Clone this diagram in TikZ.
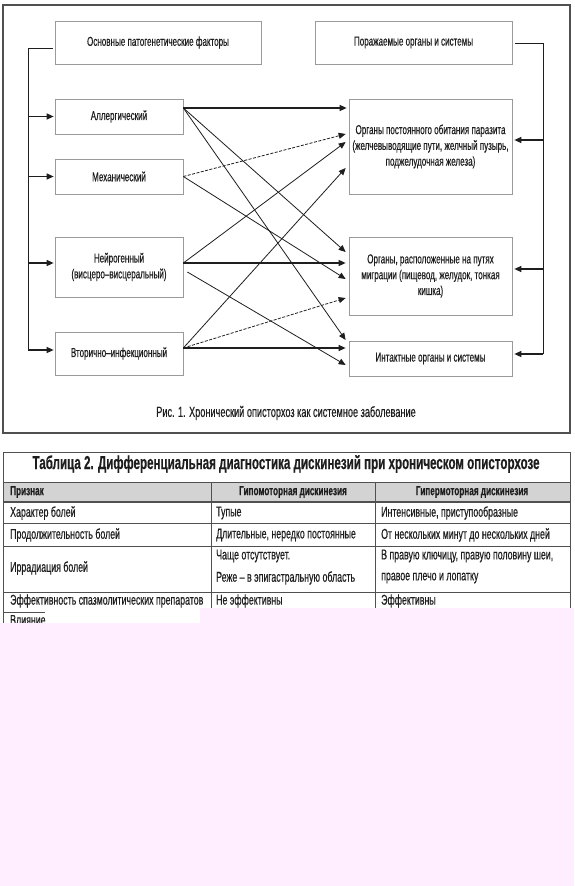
\documentclass[tikz,border=0pt]{standalone}
\usepackage{fontspec}
\setmainfont{Liberation Sans}[FakeStretch=0.62,FakeBold=0.35]
\usetikzlibrary{arrows.meta}
\definecolor{ink}{HTML}{1E1E1E}
\definecolor{boxline}{HTML}{9A9A9A}
\definecolor{frameline}{HTML}{505050}
\definecolor{headfill}{HTML}{D3D3D3}
\definecolor{pinkbg}{HTML}{FFEEFF}
\begin{document}
\begin{tikzpicture}[x=1pt,y=-1pt,
  box/.style={draw=boxline, line width=0.7pt, inner sep=1pt, align=center, font=\fontsize{13}{15.8}\selectfont, text=ink},
  conn/.style={draw=ink, line width=0.8pt, -{Triangle[length=7pt,width=6pt]}},
  hconn/.style={conn, line width=1.2pt},
  dconn/.style={conn, dash pattern=on 3pt off 1.5pt},
  bus/.style={draw=ink, line width=1pt},
  cell/.style={font=\fontsize{14.2}{16}\selectfont, text=ink, inner sep=0pt, anchor=west},
  headcell/.style={font=\bfseries\fontsize{13.2}{15}\selectfont, text=ink, inner sep=0pt},
  tline/.style={draw=frameline, line width=0.8pt},
]
\useasboundingbox (0,0) rectangle (574,886);
\fill[white] (0,0) rectangle (574,886);

% ---------- Figure 1 ----------
\draw[draw=frameline, line width=1.2pt] (3,5) rectangle (570,433);

\node[box, minimum width=206pt, minimum height=43pt] (f0) at (158,42.5) {Основные патогенетические факторы};
\node[box, minimum width=128pt, minimum height=35pt] (A) at (119,116.5) {Аллергический};
\node[box, minimum width=128pt, minimum height=35pt] (M) at (119,176.5) {Механический};
\node[box, minimum width=128pt, minimum height=60pt] (N) at (119,267) {Нейрогенный\\(висцеро–висцеральный)};
\node[box, minimum width=128pt, minimum height=43pt] (V) at (119,353.5) {Вторично–инфекционный};

\node[box, minimum width=197pt, minimum height=43pt] (R0) at (413.5,42.5) {Поражаемые органы и системы};
\node[box, minimum width=163pt, minimum height=95pt] (O1) at (430.5,146.5) {Органы постоянного обитания паразита\\(желчевыводящие пути, желчный пузырь,\\поджелудочная железа)};
\node[box, minimum width=163pt, minimum height=78pt] (O2) at (430.5,276) {Органы, расположенные на путях\\миграции (пищевод, желудок, тонкая\\кишка)};
\node[box, minimum width=163pt, minimum height=35pt] (O3) at (430.5,358.5) {Интактные органы и системы};

\node[font=\fontsize{14.8}{17}\selectfont, text=ink] (cap) at (286,413) {Рис. 1. Хронический описторхоз как системное заболевание};

% helper points
\path ([yshift=4pt]N.west) coordinate (nw)
      ([yshift=3.5pt]V.west) coordinate (vw)
      ([yshift=6.5pt]O1.east) coordinate (o1e)
      ([yshift=7pt]O2.east) coordinate (o2e)
      ([yshift=4.5pt]O3.east) coordinate (o3e);

% left bus
\coordinate (lb) at (28,48);
\draw[bus] ([xshift=-2pt,yshift=-5.5pt]f0.west) -- (lb) -- (lb |- vw);
\draw[hconn] (lb |- A.west) -- ([xshift=-1pt]A.west);
\draw[hconn] (lb |- M.west) -- ([xshift=-1pt]M.west);
\draw[hconn] (lb |- nw) -- ([xshift=-1pt]nw);
\draw[hconn] (lb |- vw) -- ([xshift=-1pt]vw);

% right bus
\coordinate (rb) at (543,43);
\draw[bus] ([xshift=3pt,yshift=-0.5pt]R0.east) -- (rb) -- (rb |- o3e);
\draw[hconn] (rb |- o1e) -- ([xshift=2pt]o1e);
\draw[hconn] (rb |- o2e) -- ([xshift=2pt]o2e);
\draw[hconn] (rb |- o3e) -- ([xshift=2pt]o3e);

% factor -> organ connectors
\draw[hconn] ([yshift=8.5pt]A.east) -- ([xshift=-2pt,yshift=38.5pt]O1.west);
\draw[conn] ([yshift=8.5pt]A.east) -- ([xshift=-3pt,yshift=24pt]O2.west);
\draw[conn] ([yshift=8.5pt]A.east) -- ([xshift=-3pt,yshift=18.5pt]O3.west);
\draw[dconn] (M.east) -- ([xshift=-3pt,yshift=12.5pt]O1.west);
\draw[conn] (M.east) -- ([xshift=-3pt,yshift=-3pt]O2.west);
\draw[conn] ([yshift=4pt]N.east) -- ([xshift=-3pt,yshift=4.5pt]O1.west);
\draw[hconn] ([yshift=4pt]N.east) -- ([xshift=-3pt,yshift=13pt]O2.west);
\draw[conn] ([xshift=4pt,yshift=-5pt]N.east) -- ([xshift=-3pt,yshift=-6.5pt]O3.west);
\draw[conn] ([yshift=5.5pt]V.east) -- ([xshift=-3pt,yshift=-21.5pt]O1.west);
\draw[dconn] ([yshift=5.5pt]V.east) -- ([xshift=-3pt,yshift=-22pt]O2.west);
\draw[hconn] ([yshift=5.5pt]V.east) -- ([xshift=-3pt,yshift=10.5pt]O3.west);

% ---------- Table 2 ----------
\fill[headfill] (3,482) rectangle (570,502);
\draw[tline] (3,623) -- (3,452) -- (570,452) -- (570,608);
\draw[tline] (3,482) -- (570,482);
\draw[tline, line width=1.1pt] (3,502) -- (570,502);
\draw[tline] (3,523) -- (570,523);
\draw[tline] (3,546) -- (570,546);
\draw[tline] (3,592) -- (570,592);
\draw[tline] (3,612) -- (45,612);
\draw[tline] (211,482) -- (211,612);
\draw[tline] (375,482) -- (375,608);

\node[font=\bfseries\fontsize{18.7}{21}\selectfont, text=ink] (ttl) at (286,464) {Таблица 2. Дифференциальная диагностика дискинезий при хроническом описторхозе};

\node[headcell, anchor=west] (h1) at (10,492) {Признак};
\node[headcell] (h2) at (293,492) {Гипомоторная дискинезия};
\node[headcell] (h3) at (472,492) {Гипермоторная дискинезия};

\node[cell] (r1a) at (10,513) {Характер болей};
\node[cell] (r1b) at (216,513) {Тупые};
\node[cell] (r1c) at (381,513) {Интенсивные, приступообразные};

\node[cell] (r2a) at (10,535) {Продолжительность болей};
\node[cell] (r2b) at (216,535) {Длительные, нередко постоянные};
\node[cell] (r2c) at (381,535) {От нескольких минут до нескольких дней};

\node[cell] (r3a) at (10,568) {Иррадиация болей};
\node[cell] (r3b) at (216,556) {Чаще отсутствует.};
\node[cell] (r3b2) at (216,578) {Реже – в эпигастральную область};
\node[cell] (r3c) at (381,556) {В правую ключицу, правую половину шеи,};
\node[cell] (r3c2) at (381,578) {правое плечо и лопатку};

\node[cell] (r4a) at (10,601) {Эффективность спазмолитических препаратов};
\node[cell] (r4b) at (216,601) {Не эффективны};
\node[cell] (r4c) at (381,601) {Эффективны};

\node[cell] (r5a) at (10,620) {Влияние};

% damaged lower part of the scan
\fill[pinkbg] (0,623) -- (200,623) -- (200,608) -- (574,608) -- (574,886) -- (0,886) -- cycle;
\end{tikzpicture}
\end{document}
